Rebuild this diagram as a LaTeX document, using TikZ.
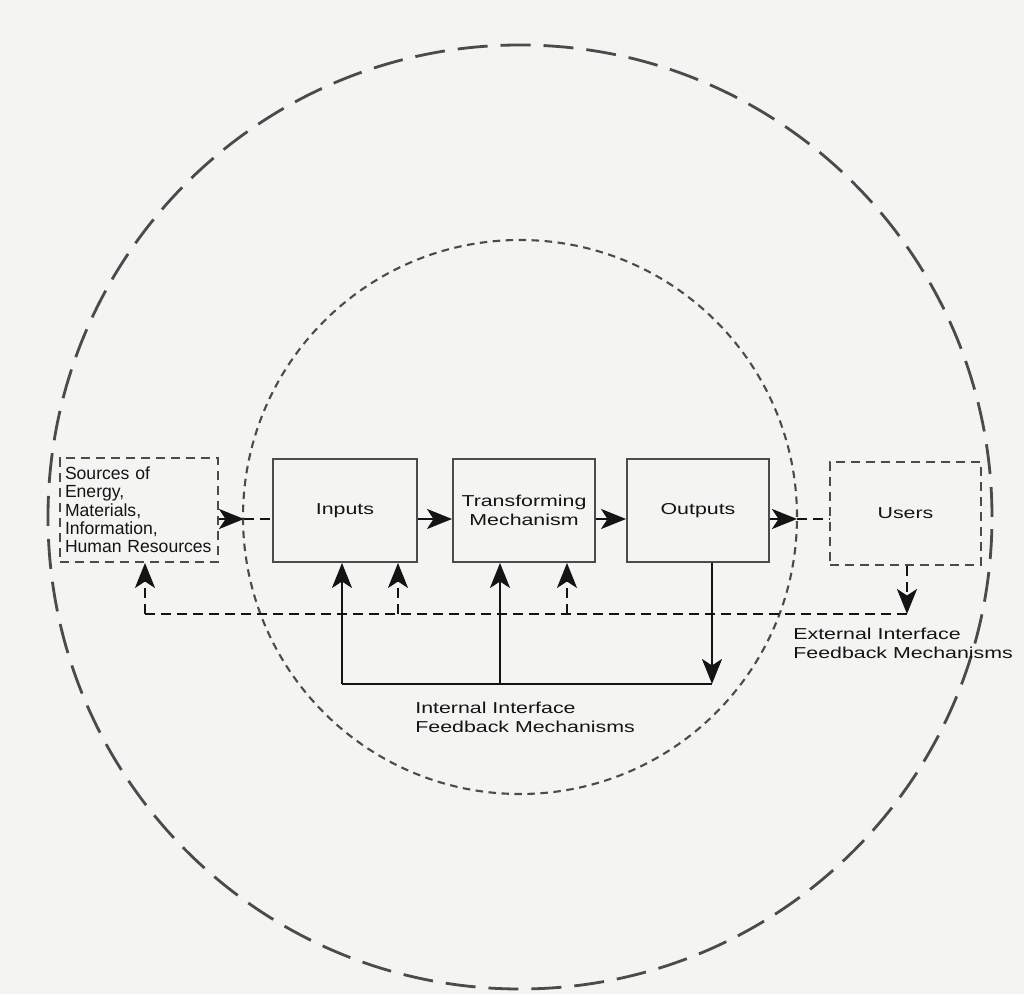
\documentclass[tikz,border=0pt]{standalone}
\usepackage{fontspec}
\setmainfont{Liberation Sans}
\newfontfamily\widesans{Liberation Sans}[FakeStretch=1.35]
\usetikzlibrary{arrows.meta}
\definecolor{paper}{RGB}{244,244,243}
\definecolor{ink}{RGB}{20,20,20}
\definecolor{rim}{RGB}{75,75,75}
\tikzset{
	box/.style={draw=rim,line width=1.1pt,minimum height=2.06cm,font=\widesans\fontsize{9}{10.9}\selectfont,align=center,text=ink},
	dbox/.style={box,dash pattern=on 0.18cm off 0.12cm},
	arr/.style={draw=ink,line width=1.5pt,-{Stealth[length=5mm,width=4mm,inset=1.3mm]}},
	darr/.style={arr,dash pattern=on 0.2cm off 0.12cm},
	fb/.style={draw=ink,line width=1.5pt},
	dfb/.style={fb,dash pattern=on 0.2cm off 0.12cm},
	lbl/.style={font=\widesans\fontsize{9}{10.9}\selectfont,align=left,inner sep=0pt,anchor=north west,text=ink}
}

\begin{document}
\begin{tikzpicture}[x=2cm,y=2cm]
	\fill[paper] (0,0) rectangle (10.24,9.94);
	\draw[rim,line width=1.6pt,dash pattern=on 0.6cm off 0.26cm] (5.20,4.77) circle (9.44cm);
	\draw[rim,line width=1.2pt,dash pattern=on 0.15cm off 0.11cm] (5.20,4.77) circle (5.54cm);
	\node[dbox,minimum width=3.16cm,minimum height=2.08cm,text width=2.96cm,inner xsep=0.1cm,align=left,font=\fontsize{10}{10.4}\selectfont] (src) at (1.39,4.84) {Sources of\\Energy,\\Materials,\\Information,\\Human Resources};
	\node[box,minimum width=2.88cm] (inp) at (3.45,4.835) {Inputs};
	\node[box,minimum width=2.84cm] (trf) at (5.24,4.835) {Transforming\\Mechanism};
	\node[box,minimum width=2.84cm] (outp) at (6.98,4.835) {Outputs};
	\node[dbox,minimum width=3.02cm] (usr) at (9.055,4.805) {Users};
	\coordinate (cl) at (2.44,4.75);
	\coordinate (cr) at (7.97,4.75);
	\coordinate (ib) at (3.42,3.10);
	\coordinate (it) at (5.00,3.10);
	\coordinate (ie) at (7.12,3.10);
	\coordinate (es) at (1.45,3.80);
	\coordinate (ei) at (3.98,3.80);
	\coordinate (et) at (5.67,3.80);
	\coordinate (eu) at (9.07,3.80);
	\draw[arr] (src.east |- cl) -- (cl);
	\draw[dfb] (cl) -- (inp.west |- cl);
	\draw[arr] (inp.east |- cl) -- (trf.west |- cl);
	\draw[arr] (trf.east |- cl) -- (outp.west |- cl);
	\draw[arr] (outp.east |- cl) -- (cr);
	\draw[dfb] (cr) -- (usr.west |- cr);
	\draw[fb] (ib) -- (ie);
	\draw[arr] (outp.south -| ie) -- (ie);
	\draw[arr] (ib) -- (inp.south -| ib);
	\draw[arr] (it) -- (trf.south -| it);
	\draw[dfb] (es) -- (eu);
	\draw[darr] (usr.south -| eu) -- (eu);
	\draw[darr] (es) -- (src.south -| es);
	\draw[darr] (ei) -- (inp.south -| ei);
	\draw[darr] (et) -- (trf.south -| et);
	\node[lbl] (ext) at (7.93,3.66) {External Interface\\Feedback Mechanisms};
	\node[lbl] (int) at (4.15,2.92) {Internal Interface\\Feedback Mechanisms};
\end{tikzpicture}
\end{document}
